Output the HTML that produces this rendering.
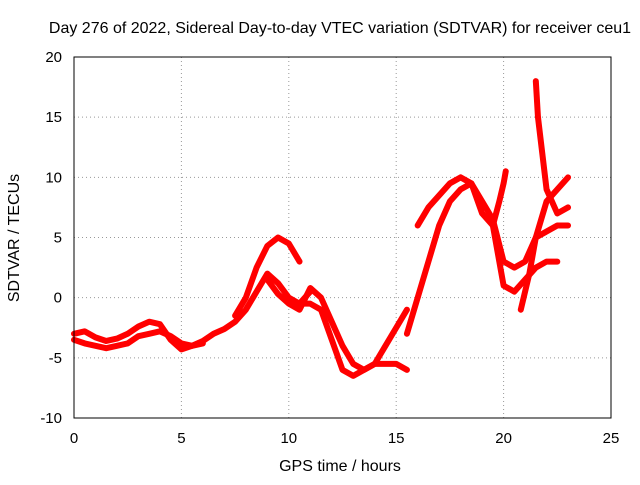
<!DOCTYPE html>
<html><head><meta charset="utf-8"><style>
body{margin:0;background:#fff;}
svg text{font-family:"Liberation Sans",sans-serif;font-size:15px;fill:#000;}
svg text.big{font-size:16px;}
</style></head><body>
<svg id="chart" width="640" height="480">
<text class="big" x="340" y="33" text-anchor="middle">Day 276 of 2022, Sidereal Day-to-day VTEC variation (SDTVAR) for receiver ceu1</text>
<g id="grid"></g><g id="ticks"></g><g id="series"></g>
<rect x="74" y="57" width="537" height="361" fill="none" stroke="#000" stroke-width="1"/>
<text class="big" x="340" y="471" text-anchor="middle">GPS time / hours</text>
<text class="big" transform="translate(19,238) rotate(-90)" text-anchor="middle">SDTVAR / TECUs</text>
</svg>
<script>
const xTicks=[0,5,10,15,20,25];
const yTicks=[-10,-5,0,5,10,15,20];
const traceA_x=[0,0.5,1,1.5,2,2.5,3,3.5,4,4.5,5,5.5,6,6.5,7,7.5,8,8.5,9,9.5,10,10.5,11];
const traceA_y=[-3.5,-3.8,-4,-4.2,-4,-3.8,-3.2,-3,-2.8,-3.2,-3.8,-4,-3.6,-3,-2.6,-2,-1,0.5,2,1.2,0,-0.5,0.5];
const traceB_x=[0,0.5,1,1.5,2,2.5,3,3.5,4,4.5,5,5.5,6];
const traceB_y=[-3,-2.8,-3.3,-3.6,-3.4,-3,-2.4,-2,-2.2,-3.5,-4.3,-4,-3.8];
const traceC_x=[7.5,8,8.5,9,9.5,10,10.5];
const traceC_y=[-1.5,0,2.5,4.3,5,4.5,3];
const traceD_x=[9,9.5,10,10.5,11,11.5,12,12.5,13,13.5,14,14.5,15,15.5];
const traceD_y=[1.5,0.3,-0.5,-1,0.8,0,-2,-4,-5.5,-6,-5.5,-4,-2.5,-1];
const traceE_x=[10.5,11,11.5,12,12.5,13,13.5,14,14.5,15,15.5];
const traceE_y=[-0.5,-0.5,-1,-3.5,-6,-6.5,-6,-5.5,-5.5,-5.5,-6];
const traceF_x=[15.5,16,16.5,17,17.5,18,18.5,19,19.5,20,20.5,21,21.5,22,22.5,23];
const traceF_y=[-3,0,3,6,8,9,9.5,8,6.5,3,2.5,3,5,5.5,6,6];
const traceG_x=[16,16.5,17,17.5,18,18.5,19,19.5,20,20.5,21,21.5,22,22.5];
const traceG_y=[6,7.5,8.5,9.5,10,9.5,7,6,1,0.5,1.5,2.5,3,3];
const traceH_x=[19.5,19.8,20,20.1];
const traceH_y=[6,8,9.5,10.5];
const traceI_x=[21.5,21.6,21.8,22,22.5,23];
const traceI_y=[18,15,12,9,7,7.5];
const traceJ_x=[20.8,21.2,21.5,22,22.5,23];
const traceJ_y=[-1,2,5,8,9,10];
const traces=[[traceA_x,traceA_y],[traceB_x,traceB_y],[traceC_x,traceC_y],[traceD_x,traceD_y],[traceE_x,traceE_y],[traceF_x,traceF_y],[traceG_x,traceG_y],[traceH_x,traceH_y],[traceI_x,traceI_y],[traceJ_x,traceJ_y]];
const NS="http://www.w3.org/2000/svg";
const X=v=>74+v/25*537, Y=v=>418-(v+10)/30*361;
const grid=document.getElementById('grid'),ticks=document.getElementById('ticks'),ser=document.getElementById('series');
function mk(t,a,p){const e=document.createElementNS(NS,t);for(const k in a)e.setAttribute(k,a[k]);p.appendChild(e);return e;}
xTicks.forEach(v=>{
 if(v>0&&v<25){const g=mk('line',{x1:X(v),x2:X(v),y1:57,y2:418,stroke:'#999','stroke-dasharray':'1,3'},grid);
 
 }
 const t=mk('text',{x:X(v),y:443,'text-anchor':'middle'},ticks);t.textContent=v;
 
 
});
yTicks.forEach(v=>{
 if(v>-10&&v<20){const g=mk('line',{x1:74,x2:611,y1:Y(v),y2:Y(v),stroke:'#999','stroke-dasharray':'1,3'},grid);
 
 }
 const t=mk('text',{x:62,y:Y(v)+5,'text-anchor':'end'},ticks);t.textContent=v;
 
 
});
traces.forEach(([xs,ys])=>{
 const d=xs.map((x,i)=>(i?'L':'M')+X(x)+','+Y(ys[i])).join('');
 const p=mk('path',{d:d,fill:'none',stroke:'#f00','stroke-width':6,'stroke-linejoin':'round','stroke-linecap':'round'},ser);
 
 
});
</script>
</body></html>
